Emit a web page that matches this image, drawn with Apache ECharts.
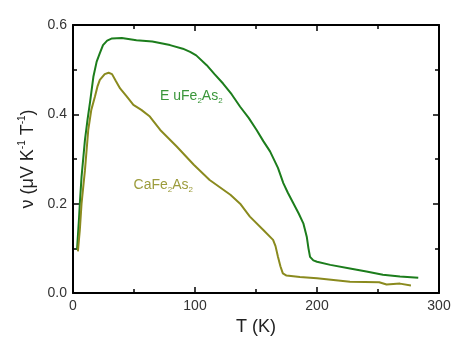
<!DOCTYPE html>
<html><head><meta charset="utf-8">
<script src="https://cdn.jsdelivr.net/npm/echarts@6/dist/echarts.min.js"></script>
<style>html,body{margin:0;padding:0;background:#fff}#c{width:454px;height:345px}</style>
</head><body><div id="c"></div>
<script>
const euT = [3.3,5,5.6,7,9.8,12,14,16.7,19.4,22,24.6,28,32,40,52,65,79.5,90,96,101,109.6,116,123,130,137,144,150.5,156,161.5,168,172.4,176,180.6,185,188.8,191.6,193,194.3,197,200,210.9,227,240.5,254,268,283];
const euV = [0.097,0.17,0.2,0.26,0.343,0.39,0.428,0.484,0.518,0.537,0.555,0.565,0.57,0.571,0.566,0.563,0.555,0.547,0.54,0.532,0.51,0.49,0.469,0.445,0.417,0.392,0.365,0.34,0.317,0.28,0.246,0.225,0.201,0.178,0.156,0.126,0.1,0.081,0.073,0.07,0.063,0.055,0.048,0.041,0.037,0.034];
const caT = [4,5.6,7,9.8,12.5,15,18,20,22,26,29.2,32,35,38.6,44,49.5,56,63,71.5,85,99,112,129,137,145,156,164,166,168,170,172,175,186,200,227,251,257,268,277];
const caV = [0.093,0.141,0.2,0.275,0.365,0.41,0.44,0.462,0.477,0.49,0.493,0.49,0.475,0.458,0.44,0.421,0.41,0.395,0.365,0.328,0.287,0.253,0.22,0.2,0.171,0.141,0.119,0.105,0.081,0.06,0.044,0.039,0.036,0.033,0.025,0.024,0.019,0.021,0.017];
const xTicks = [0,100,200,300];
const yTicks = [0.0,0.2,0.4,0.6];

const chart = echarts.init(document.getElementById('c'));
const font = 'Liberation Sans, Arial, sans-serif';
const axBase = {
  axisLine:{show:true,onZero:false,lineStyle:{color:'#000',width:2}},
  axisTick:{show:true,inside:true,length:6,lineStyle:{color:'#000',width:1.5}},
  minorTick:{show:true,splitNumber:2,length:4,lineStyle:{color:'#000',width:1.5}},
  splitLine:{show:false}
};
chart.setOption({
  animation:false,
  grid:{left:73,right:15,top:25,bottom:52},
  xAxis:[
    Object.assign({type:'value',min:0,max:300,interval:100,position:'bottom',
      name:'T (K)',nameLocation:'middle',nameGap:25,
      nameTextStyle:{fontFamily:font,fontSize:18,color:'#222'},
      axisLabel:{fontFamily:font,fontSize:14,color:'#333',margin:6,
        formatter:v=>xTicks.includes(v)?String(v):''}}, axBase),
    Object.assign({type:'value',min:0,max:300,interval:100,position:'top',axisLabel:{show:false}}, axBase)
  ],
  yAxis:[
    Object.assign({type:'value',min:0,max:0.6,interval:0.2,position:'left',
      name:'{n|ν (μV K}{s|-1}{n| T}{s|-1}{n|)}',nameLocation:'middle',nameGap:32,nameRotate:90,
      nameTextStyle:{rich:{n:{fontFamily:font,fontSize:18,color:'#222'},s:{fontFamily:font,fontSize:10,color:'#222',verticalAlign:'top',padding:[0,0,10,0]}}},
      axisLabel:{fontFamily:font,fontSize:14,color:'#333',margin:6,formatter:v=>v.toFixed(1)}}, axBase),
    Object.assign({type:'value',min:0,max:0.6,interval:0.2,position:'right',axisLabel:{show:false}}, axBase)
  ],
  series:[
    {type:'line',name:'EuFe2As2',data:euT.map((t,i)=>[t,euV[i]]),showSymbol:false,
      lineStyle:{color:'#1c7d1c',width:2},itemStyle:{color:'#1c7d1c'},
      markPoint:{symbolSize:0,data:[{coord:[97,0.44]}],
        label:{show:true,position:'inside',formatter:'{a|E uFe}{b|2}{a|As}{b|2}',
          rich:{a:{fontFamily:font,fontSize:14,color:'#3a963a'},b:{fontFamily:font,fontSize:8,color:'#3a963a',padding:[9,0,0,0]}}}}},
    {type:'line',name:'CaFe2As2',data:caT.map((t,i)=>[t,caV[i]]),showSymbol:false,
      lineStyle:{color:'#8a8a1e',width:2},itemStyle:{color:'#8a8a1e'},
      markPoint:{symbolSize:0,data:[{coord:[74,0.242]}],
        label:{show:true,position:'inside',formatter:'{a|CaFe}{b|2}{a|As}{b|2}',
          rich:{a:{fontFamily:font,fontSize:14,color:'#9c9c3c'},b:{fontFamily:font,fontSize:8,color:'#9c9c3c',padding:[9,0,0,0]}}}}}
  ]
});
</script></body></html>
